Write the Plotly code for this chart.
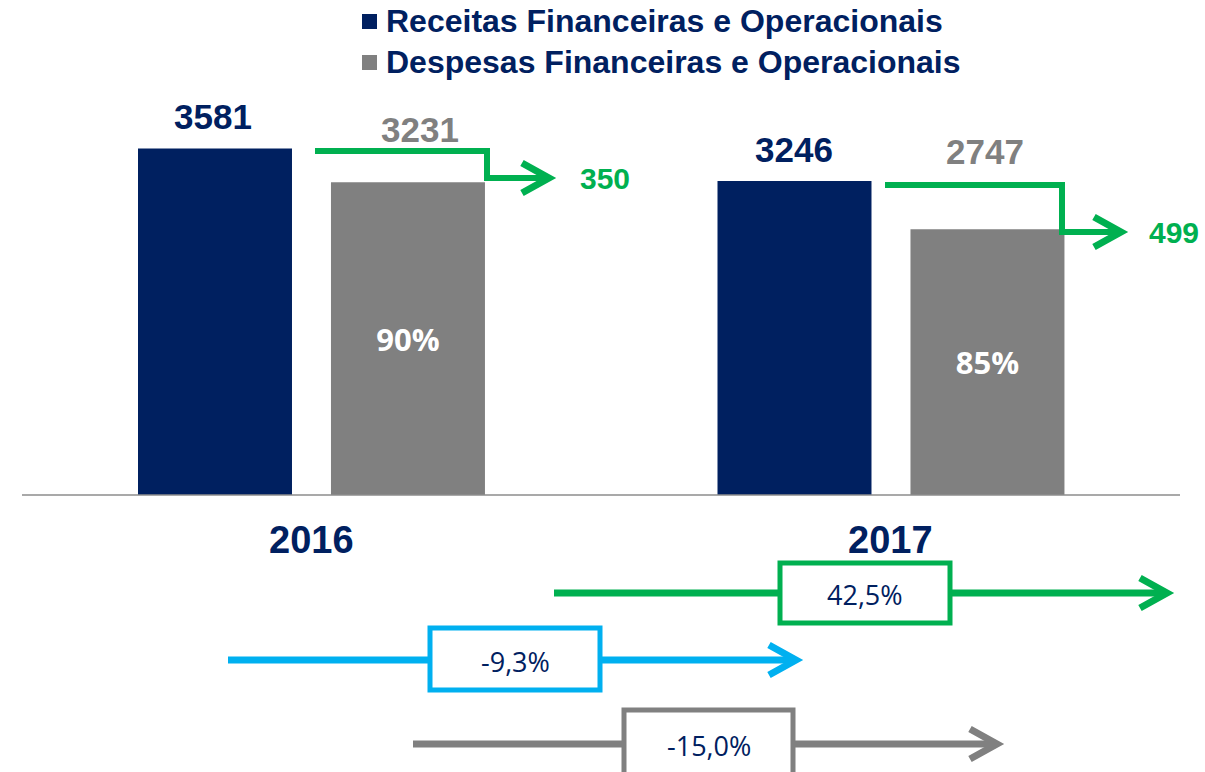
import plotly.graph_objects as go

# ---------------- data ----------------
years = ["2016", "2017"]
receitas = [3581, 3246]
despesas = [3231, 2747]
ratio_labels = ["90%", "85%"]
series_names = ["Receitas Financeiras e Operacionais", "Despesas Financeiras e Operacionais"]
growth_labels = ["42,5%", "-9,3%", "-15,0%"]   # resultado, receitas, despesas

# ---------------- style ----------------
NAVY = "#002060"
GRAY = "#808080"
GREEN = "#00B050"
BLUE = "#00B0F0"
W, H = 1205, 772
X0, XSPAN = -0.5375, 579.5          # x axis: value at pixel 0, pixels per category
KY = 10.335                          # data units per pixel
Y_TOP = 495 * KY                     # value at pixel row 0
ARIAL = "Arial, Liberation Sans"


def xd(px):
    return X0 + px / XSPAN


def yd(py):
    return Y_TOP - py * KY


def xp(px):
    return px / W


def yp(py):
    return 1 - py / H


xs = list(range(len(years)))

fig = go.Figure()
fig.add_trace(go.Bar(x=xs, y=receitas, name=series_names[0], marker=dict(color=NAVY, line=dict(width=0))))
fig.add_trace(go.Bar(x=xs, y=despesas, name=series_names[1], marker=dict(color=GRAY, line=dict(width=0)),
                     text=ratio_labels, texttemplate="<b>%{text}</b>", textposition="inside",
                     insidetextanchor="middle",
                     textfont=dict(family="Open Sans", size=31, color="white"), textangle=0))

shapes = []
annots = []


def label(x, y, text, size, color, family=ARIAL, xref="x", yref="y", xanchor="center"):
    annots.append(dict(x=x, y=y, xref=xref, yref=yref, text=text, showarrow=False,
                       xanchor=xanchor, yanchor="middle",
                       font=dict(family=family, size=size, color=color)))


# baseline
shapes.append(dict(type="line", xref="paper", yref="y", x0=xp(22), x1=xp(1180), y0=0, y1=0,
                   line=dict(color="#8c8c8c", width=1.3)))

# value labels
navy_lbl = [(213, 116), (794, 149)]
gray_lbl = [(420, 129), (985, 151)]
for i in range(len(years)):
    label(xd(navy_lbl[i][0]), yd(navy_lbl[i][1]), f"<b>{receitas[i]}</b>", 35, NAVY)
    label(xd(gray_lbl[i][0]), yd(gray_lbl[i][1]), f"<b>{despesas[i]}</b>", 35, GRAY)
    label(xs[i], yd(540), f"<b>{years[i]}</b>", 38, NAVY)

# step arrows (difference receitas - despesas)
steps = [dict(start=315, vx=487, tip=549, up=151, low=178, lbl=605),
         dict(start=885, vx=1062, tip=1121, up=185, low=232, lbl=1174)]
for i, s in enumerate(steps):
    path = (f"M {xd(s['start'])},{yd(s['up'])} L {xd(s['vx'])},{yd(s['up'])} "
            f"L {xd(s['vx'])},{yd(s['low'])} L {xd(s['tip'])},{yd(s['low'])}")
    shapes.append(dict(type="path", xref="x", yref="y", path=path, line=dict(color=GREEN, width=6)))
    head = (f"M {xd(s['tip'] - 27)},{yd(s['low'] - 15)} L {xd(s['tip'])},{yd(s['low'])} "
            f"L {xd(s['tip'] - 27)},{yd(s['low'] + 15)}")
    shapes.append(dict(type="path", xref="x", yref="y", path=head, line=dict(color=GREEN, width=7)))
    label(xd(s['lbl']), yd(s['low']), f"<b>{receitas[i] - despesas[i]}</b>", 30, GREEN)

# growth arrows with boxes
growth = [dict(c=GREEN, x0=554, tip=1167, y=593, bx0=780, bx1=950, by0=563, by1=623),
          dict(c=BLUE, x0=228, tip=796, y=660, bx0=430, bx1=600, by0=628, by1=690),
          dict(c=GRAY, x0=413, tip=997, y=744, bx0=624, bx1=793, by0=710, by1=778)]
for g, lbl in zip(growth, growth_labels):
    shapes.append(dict(type="line", xref="paper", yref="paper", x0=xp(g['x0']), x1=xp(g['tip'] - 3),
                       y0=yp(g['y']), y1=yp(g['y']), line=dict(color=g['c'], width=7)))
    head = (f"M {xp(g['tip'] - 27)},{yp(g['y'] - 15)} L {xp(g['tip'])},{yp(g['y'])} "
            f"L {xp(g['tip'] - 27)},{yp(g['y'] + 15)}")
    shapes.append(dict(type="path", xref="paper", yref="paper", path=head, line=dict(color=g['c'], width=7)))
    shapes.append(dict(type="rect", xref="paper", yref="paper", x0=xp(g['bx0']), x1=xp(g['bx1']),
                       y0=yp(g['by0']), y1=yp(g['by1']), fillcolor="white", line=dict(color=g['c'], width=5)))
    label(xp((g['bx0'] + g['bx1']) / 2), yp(g['y'] + 1), lbl, 27, NAVY, family="Open Sans",
          xref="paper", yref="paper")

# custom legend
legend_items = [(NAVY, 21), (GRAY, 62)]
for (col, cy), name in zip(legend_items, series_names):
    shapes.append(dict(type="rect", xref="paper", yref="paper", x0=xp(362), x1=xp(377), y0=yp(cy - 7), y1=yp(cy + 8),
                       fillcolor=col, line=dict(width=0)))
    label(xp(384), yp(cy), f"<b>{name}</b>", 32, NAVY, xref="paper", yref="paper", xanchor="left")

fig.update_layout(
    width=W, height=H,
    margin=dict(l=0, r=0, t=0, b=0),
    paper_bgcolor="white", plot_bgcolor="white",
    barmode="group", bargap=0.334, bargroupgap=0.202,
    showlegend=False,
    xaxis=dict(range=[X0, X0 + W / XSPAN], visible=False, fixedrange=True),
    yaxis=dict(range=[yd(H), Y_TOP], visible=False, fixedrange=True),
    shapes=shapes, annotations=annots,
)

fig.write_html("out.html", config={"displayModeBar": False},
               post_script="document.body.style.margin='0px';")
